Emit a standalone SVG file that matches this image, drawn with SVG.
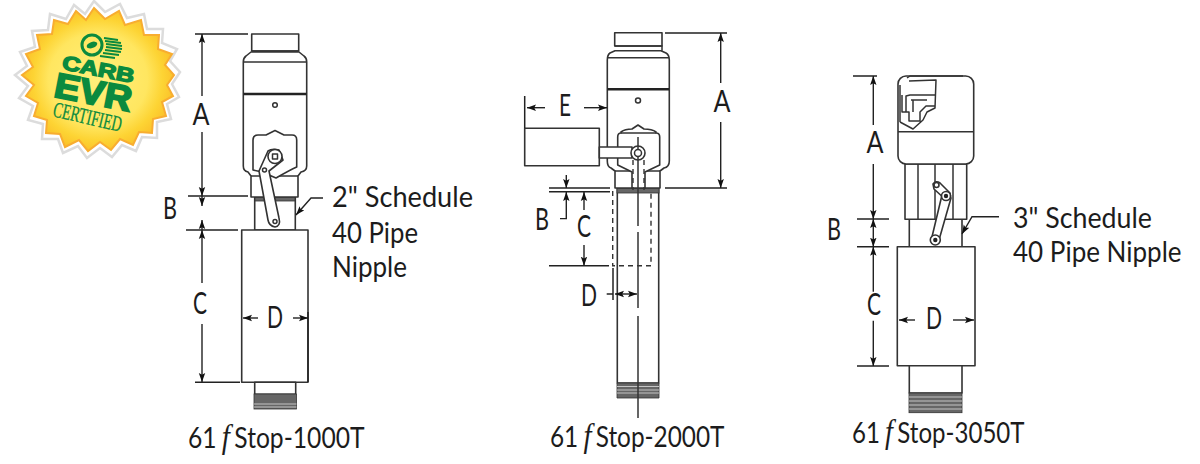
<svg xmlns="http://www.w3.org/2000/svg" width="1200" height="464" viewBox="0 0 1200 464">
<style>
.o{fill:#fff;stroke:#333;stroke-width:1.6;stroke-linejoin:round}
.n{fill:none;stroke:#333;stroke-width:1.5;stroke-linejoin:round}
.k{fill:none;stroke:#222;stroke-width:2.4}
.d{fill:none;stroke:#333;stroke-width:1.4;stroke-dasharray:5 4}
.t{fill:#666;stroke:#333;stroke-width:.8}
.c{fill:none;stroke:#222;stroke-width:1.5}
.a{fill:none;stroke:#222;stroke-width:1.4;marker-end:url(#ar)}
.b{fill:none;stroke:#222;stroke-width:1.4;marker-start:url(#ar);marker-end:url(#ar)}
text{font-family:Lato,"Open Sans","Noto Sans",sans-serif;fill:#1c1c1c}
.l{font-size:31px;text-anchor:middle}
.s{font-size:28px}
.g{fill:#0b8a3e;font-family:"Liberation Sans",Arial,sans-serif;font-weight:700;text-anchor:middle;stroke:#0b8a3e}
.f{font-family:"Liberation Serif","Times New Roman",serif;font-style:italic;font-size:33px}
</style>
<defs>
<marker id="ar" markerUnits="userSpaceOnUse" markerWidth="10" markerHeight="8" refX="9" refY="4" orient="auto-start-reverse"><path d="M0,.8L9,4L0,7.2L1.8,4Z" fill="#111"/></marker>
<radialGradient id="sun"><stop offset="0" stop-color="#fff07c"/><stop offset=".65" stop-color="#ffe660"/><stop offset=".85" stop-color="#fdd434"/><stop offset="1" stop-color="#fbc32a"/></radialGradient>
</defs>
<rect width="1200" height="464" fill="#fff"/>

<g id="badge">
<polygon fill="#fff" stroke="#dcdcdc" stroke-width="2.500" points="94,1 105,12 120,4 127,18 144,14 147,29 163,29 162,43 177,49 170,61 180,72 172,84 179,97 167,104 171,119 157,122 157,138 142,137 136,151 122,145 112,157 100,148 87,158 78,146 63,153 58,139 42,139 43,124 28,120 33,106 19,98 28,86 15,75 27,66 20,52 35,47 32,31 48,30 50,14 66,19 74,5 85,14"/>
<polygon fill="url(#sun)" stroke="#f8ad30" stroke-width="2" points="94,8 105,19 119,11 125,25 141,20 144,35 159,35 158,49 172,54 165,65 174,75 167,85 173,96 162,102 166,116 153,119 152,133 139,132 133,145 120,139 111,150 100,142 88,151 79,140 65,147 60,134 46,133 47,120 34,116 38,103 26,96 34,85 22,75 33,67 26,54 40,49 37,35 52,34 54,20 68,24 76,11 86,20"/>
<ellipse cx="92" cy="45" rx="10" ry="10" fill="none" stroke="#0b8a3e" stroke-width="3"/>
<ellipse cx="92" cy="45" rx="5.500" ry="3" fill="#0b8a3e" transform="rotate(-20 92 45)"/>
<path d="M104,38L118,40M105,41L121,43M106,44L122,46M106,47L122,49M105,50L121,52M103,53L119,55M100,56L115,58" stroke="#0b8a3e" stroke-width="1.800" fill="none"/>
<text class="g" transform="translate(97,76) rotate(11)" font-size="20" stroke-width="1.400" textLength="73" lengthAdjust="spacingAndGlyphs">CARB</text>
<text class="g" transform="translate(91,104) rotate(11)" font-size="35" stroke-width="2" textLength="78" lengthAdjust="spacingAndGlyphs">EVR</text>
<text class="g" transform="translate(86,124) rotate(13)" font-size="22" stroke-width=".3" style="font-family:'Liberation Serif',serif;font-weight:400" textLength="70" lengthAdjust="spacingAndGlyphs">CERTIFIED</text>
</g>

<g id="valve-1000T">
<rect class="o" x="254.700" y="197" width="40.600" height="33"/>
<rect class="t" x="255" y="197" width="40" height="4"/>
<rect class="o" x="251.700" y="34" width="47" height="17"/>
<path class="o" d="M251,52H299L304,56Q306.700,58 306.700,62V166Q306.700,171 301,172L298,176V197H251V176L248,172Q243.300,171 243.300,166V62Q243.300,58 246,56Z"/>
<path class="n" d="M243.500,62H306.500M251.700,51H298.700M251,176H298"/>
<path class="k" d="M243.500,94H306.500"/>
<circle class="n" cx="275" cy="105" r="2.300"/>
<path class="o" d="M253,170V140Q253,135 258,135H266L275,130.500L284,135H292Q296.700,135 296.700,140V167Q290,170 276,178L262,172Z"/>
<path class="o" d="M259,171L268,151Q272,148 279,150L283,160L269,171L279,218Q281,226 275,227Q269,226 268,220Z"/>
<circle class="o" cx="275" cy="156.500" r="7"/>
<rect class="n" x="272.500" y="154" width="5" height="5"/>
<circle class="n" cx="264.500" cy="170" r="2"/>
<circle class="n" cx="275" cy="221.500" r="2"/>
<rect class="o" x="241.700" y="230" width="66.300" height="152.300"/>
<path class="k" style="stroke-width:1.500" d="M308,312V382"/>
<rect class="o" x="254.700" y="382.300" width="41" height="12"/>
<rect class="t" x="254" y="394" width="42.500" height="15"/>
<path d="M254,404H296.500M254,407H296.500" stroke="#ddd" stroke-width=".8"/>
</g>

<g id="valve-2000T">
<rect class="o" x="617.300" y="188" width="41.400" height="195"/>
<rect class="t" x="617" y="188" width="42" height="5"/>
<rect class="o" x="614.700" y="32.700" width="47.300" height="13.300"/>
<path class="o" d="M615,50.700H661L666,53Q669.300,55 669.300,60V161Q669.300,167 664,168L660,171V188H615V171L611,168Q607.300,167 607.300,161V60Q607.300,55 610,53Z"/>
<path class="n" d="M607.500,57.700H669M614.700,46H662V50.700M615,171H660"/>
<path class="k" d="M607.500,89.300H669"/>
<circle class="n" cx="638" cy="100.500" r="2.500"/>
<path class="o" d="M617.700,165V137Q617.700,133 621,133V132Q625,129 632,129L638,125L644,129Q652,129 656,132V133Q659.700,133 659.700,137V165L645,172V188H632V172Z"/>
<path class="n" d="M621,133H656"/>
<rect class="o" x="524.700" y="128.300" width="74.600" height="37.400"/>
<path class="o" d="M599.300,147H632V158H599.300Z"/>
<circle class="o" cx="638" cy="153" r="7"/>
<circle class="n" cx="638" cy="153" r="3.500"/>
<path class="t" d="M617,383H659V398H617Z"/>
<path d="M617,386.500H659M617,390H659M617,393H659" stroke="#ddd" stroke-width=".8"/>
<path class="d" d="M633,160V190M644,160V190M612.700,191V265.700H651V191"/>
<path class="n" d="M638,137V150M638,157V418"/>
<path style="fill:none;stroke:#fff;stroke-width:2" d="M638,226V232M638,308V316"/>
</g>

<g id="valve-3050T">
<rect class="o" x="909.300" y="219" width="52.700" height="27.700"/>
<rect class="o" x="905" y="164" width="61.700" height="55.300"/>
<path class="n" d="M918,164V219M935,164V219M953,164V219"/>
<rect class="o" x="898" y="76" width="75.700" height="88" rx="8"/>
<path class="n" d="M898,131.700H973.700"/>
<path class="n" d="M907,78L910,76H963M900,122L913,129L923,120L927,112L935,108L936,80L909,81M900,85V122M902,95V112H906V96L910,95H935M906,112H909V121H920V112L926,106H935M911,100H927M913,100V112"/>
<path class="o" d="M933,184Q936,180 940,183L950,193Q952,199 946,200L934,189Z"/>
<path class="o" d="M942,195Q948,190 951,198L939,240Q936,246 931,241Z"/>
<circle class="o" cx="936.500" cy="185" r="2.500"/>
<circle class="o" cx="946" cy="196" r="4.500"/>
<circle cx="946" cy="196" r="2.200" fill="#222"/>
<circle class="o" cx="935.300" cy="240" r="5"/>
<circle cx="935.300" cy="240" r="2.200" fill="#222"/>
<rect class="o" x="897.300" y="246.700" width="77.700" height="119"/>
<rect class="o" x="909.300" y="365.700" width="52.700" height="27.300"/>
<rect class="t" x="909" y="393" width="53" height="19.700"/>
<path d="M909,397H962M909,401H962M909,405H962M909,409H962" stroke="#ddd" stroke-width=".8"/>
</g>

<g id="connectors">
<path class="c" d="M195,34H248M188,196H248M186,230H238M195,382.300H240"/>
<path class="a" d="M202,96V34"/><path class="a" d="M202,132V196"/>
<path class="b" d="M202,206V196M202,230V220"/>
<path class="a" d="M202,283V230"/><path class="a" d="M202,324V382"/>
<path class="a" d="M258,318H243"/><path class="a" d="M293,318H308"/>
<path class="a" d="M323,198H311L296,215"/>

<path class="c" d="M665,33H727M665,188H727M549,188H610M549,191.700H610M549,265.700H609M524.700,96V128M613,268V300"/>
<path class="a" d="M720.700,83V33"/><path class="a" d="M720.700,122V188"/>
<path class="a" d="M545,107.700H527"/><path class="a" d="M584,107.700H607"/>
<path class="a" d="M566.300,175V188"/><path class="a" d="M560,218.600H566.300V192"/>
<path class="a" d="M584,210V192"/><path class="a" d="M584,245V265.700"/>
<path class="c" d="M606.700,294H613"/><path class="b" d="M615,294H637"/>

<path class="c" d="M853,76H877M857,219H889M857,246.700H889M857,366H889"/>
<path class="a" d="M873.300,125V76"/><path class="a" d="M873.300,164V219"/>
<path class="a" d="M873.300,233V219"/><path class="a" d="M873.300,233V246.700"/>
<path class="a" d="M873.300,291.700V246.700"/><path class="a" d="M873.300,320.700V366"/>
<path class="a" d="M915,320H899"/><path class="a" d="M953,320H974"/>
<path class="a" d="M999,216.700H972L962,234"/>
</g>

<g id="labels">
<text class="l" x="201" y="125" textLength="17" lengthAdjust="spacingAndGlyphs">A</text>
<text class="l" x="170" y="219" textLength="14" lengthAdjust="spacingAndGlyphs">B</text>
<text class="l" x="200" y="314" textLength="14" lengthAdjust="spacingAndGlyphs">C</text>
<text class="l" x="275" y="328" textLength="16" lengthAdjust="spacingAndGlyphs">D</text>
<text class="s" x="332" y="207" textLength="141" lengthAdjust="spacingAndGlyphs">2" Schedule</text>
<text class="s" x="332" y="243" textLength="86" lengthAdjust="spacingAndGlyphs">40 Pipe</text>
<text class="s" x="332" y="277" textLength="75" lengthAdjust="spacingAndGlyphs">Nipple</text>
<text class="s" transform="translate(188,448) scale(.88,1)">61<tspan class="f" dx="6">f</tspan><tspan dx="5">Stop-1000T</tspan></text>

<text class="l" x="722" y="112" textLength="17" lengthAdjust="spacingAndGlyphs">A</text>
<text class="l" x="565" y="116" textLength="12" lengthAdjust="spacingAndGlyphs">E</text>
<text class="l" x="542" y="230" textLength="14" lengthAdjust="spacingAndGlyphs">B</text>
<text class="l" x="584" y="237" textLength="14" lengthAdjust="spacingAndGlyphs">C</text>
<text class="l" x="589" y="306" textLength="16" lengthAdjust="spacingAndGlyphs">D</text>
<text class="s" transform="translate(550,447) scale(.87,1)">61<tspan class="f" dx="6">f</tspan><tspan dx="5">Stop-2000T</tspan></text>

<text class="l" x="875" y="153" textLength="17" lengthAdjust="spacingAndGlyphs">A</text>
<text class="l" x="834" y="240" textLength="14" lengthAdjust="spacingAndGlyphs">B</text>
<text class="l" x="874" y="315" textLength="14" lengthAdjust="spacingAndGlyphs">C</text>
<text class="l" x="934" y="329" textLength="16" lengthAdjust="spacingAndGlyphs">D</text>
<text class="s" x="1013" y="228" textLength="139" lengthAdjust="spacingAndGlyphs">3" Schedule</text>
<text class="s" transform="translate(1013,262) scale(.93,1)">40 Pipe Nipple</text>
<text class="s" transform="translate(852,443) scale(.86,1)">61<tspan class="f" dx="6">f</tspan><tspan dx="5">Stop-3050T</tspan></text>
</g>
</svg>
